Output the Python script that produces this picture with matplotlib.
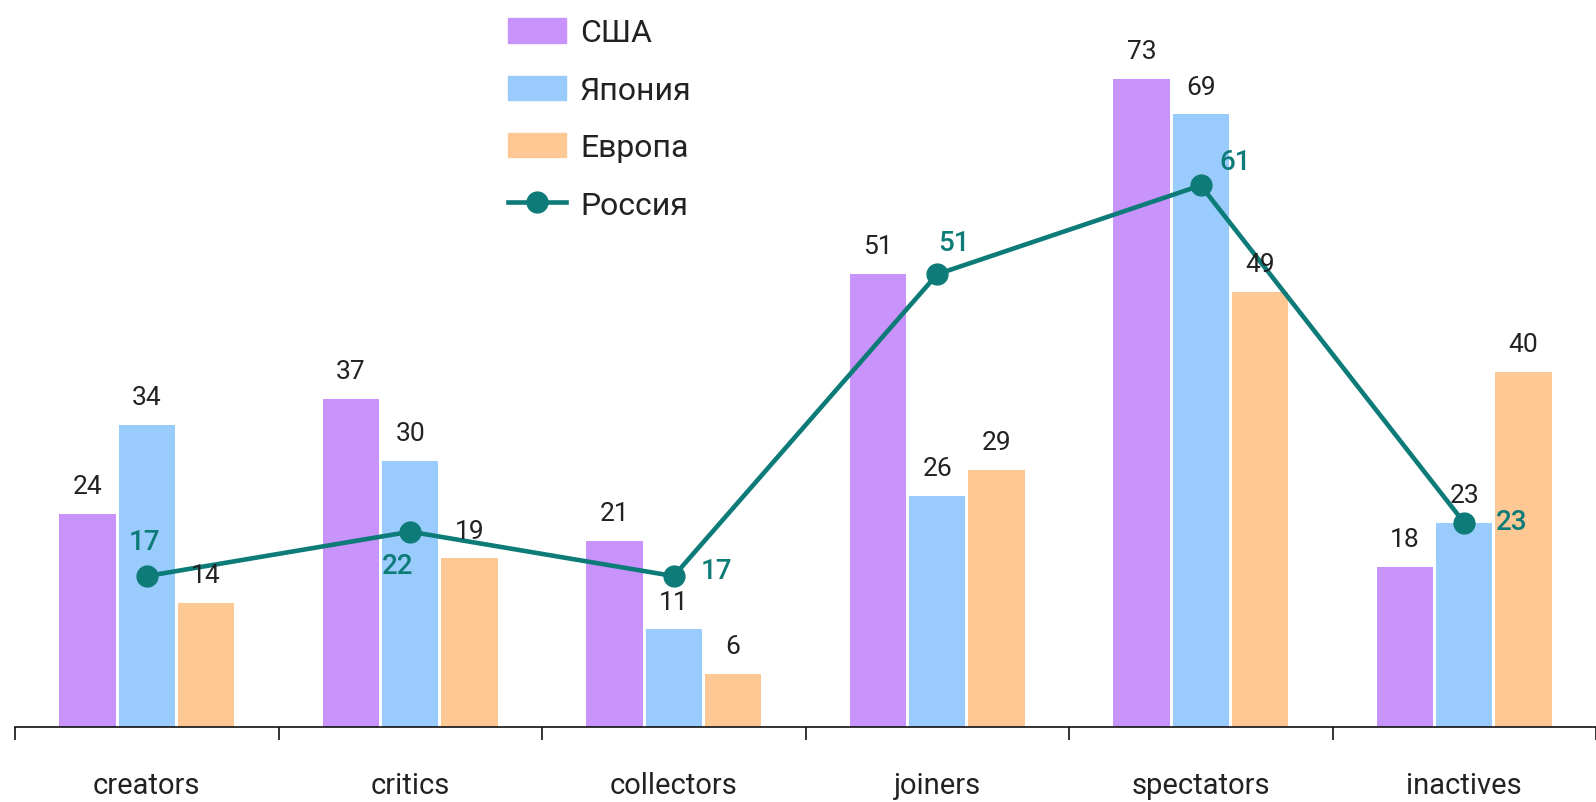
import matplotlib
matplotlib.use("Agg")
import numpy as np
import matplotlib.pyplot as plt
from matplotlib.patches import Patch
from matplotlib.lines import Line2D

plt.rcParams['font.family'] = ['Roboto', 'DejaVu Sans']

categories = ["creators", "critics", "collectors", "joiners", "spectators", "inactives"]
usa = [24, 37, 21, 51, 73, 18]
japan = [34, 30, 11, 26, 69, 23]
europe = [14, 19, 6, 29, 49, 40]
russia = [17, 22, 17, 51, 61, 23]
series_names = ["США", "Япония", "Европа", "Россия"]

# label offsets for Russia points (points), picked to match the picture
russia_offsets = [(-2, 25), (-9, -24), (31, 4), (12, 23), (25, 17), (34, 1)]

c_usa = "#c893fb"
c_jap = "#99cbfd"
c_eur = "#fec894"
c_rus = "#0d7b78"
text_col = "#222222"

fig = plt.figure(figsize=(15.96, 8.03), dpi=100)
ax = fig.add_axes([15 / 1596, 75 / 803, 1581 / 1596, 728 / 803])

x = np.arange(len(categories))
w = 0.214
gap = 0.011
for vals, col, off in [(usa, c_usa, -1), (japan, c_jap, 0), (europe, c_eur, 1)]:
    pos = x + off * (w + gap)
    ax.bar(pos, vals, width=w, color=col, zorder=2)
    for px, v in zip(pos, vals):
        ax.annotate(str(v), (px, v), xytext=(0, 20), textcoords="offset points",
                    ha="center", va="center", fontsize=19, color=text_col, zorder=4)

ax.plot(x, russia, color=c_rus, lw=3.3, marker="o", ms=15, zorder=3)
for px, v, (dx, dy) in zip(x, russia, russia_offsets):
    ax.annotate(str(v), (px, v), xytext=(dx, dy), textcoords="offset points",
                ha="center", va="center", fontsize=20, fontweight="medium",
                color=c_rus, zorder=5)

ax.set_xlim(-0.5, 5.459)
ax.set_ylim(0, 82.0)

for s in ["top", "right", "left"]:
    ax.spines[s].set_visible(False)
ax.spines["bottom"].set_color("#111111")
ax.spines["bottom"].set_linewidth(1.2)
ax.set_yticks([])
ax.set_xticks(np.arange(len(categories) + 1) - 0.5, minor=False)
ax.set_xticklabels([])
ax.tick_params(axis="x", direction="out", length=9, width=1.2, color="#111111")
ax.set_xticks(x, minor=True)
ax.set_xticklabels(categories, minor=True, fontsize=21, color=text_col)
ax.tick_params(axis="x", which="minor", length=0, pad=32)

handles = [Patch(color=c_usa), Patch(color=c_jap), Patch(color=c_eur),
           Line2D([], [], color=c_rus, lw=3.3, marker="o", ms=15)]
leg = ax.legend(handles, series_names, loc="upper left",
                bbox_to_anchor=(474 / 1581, 1.0), frameon=False, fontsize=23,
                handlelength=1.8, handleheight=0.8, handletextpad=0.45,
                labelspacing=0.88, borderpad=0.1)
for t in leg.get_texts():
    t.set_color(text_col)

fig.savefig("out.png", dpi=100)
